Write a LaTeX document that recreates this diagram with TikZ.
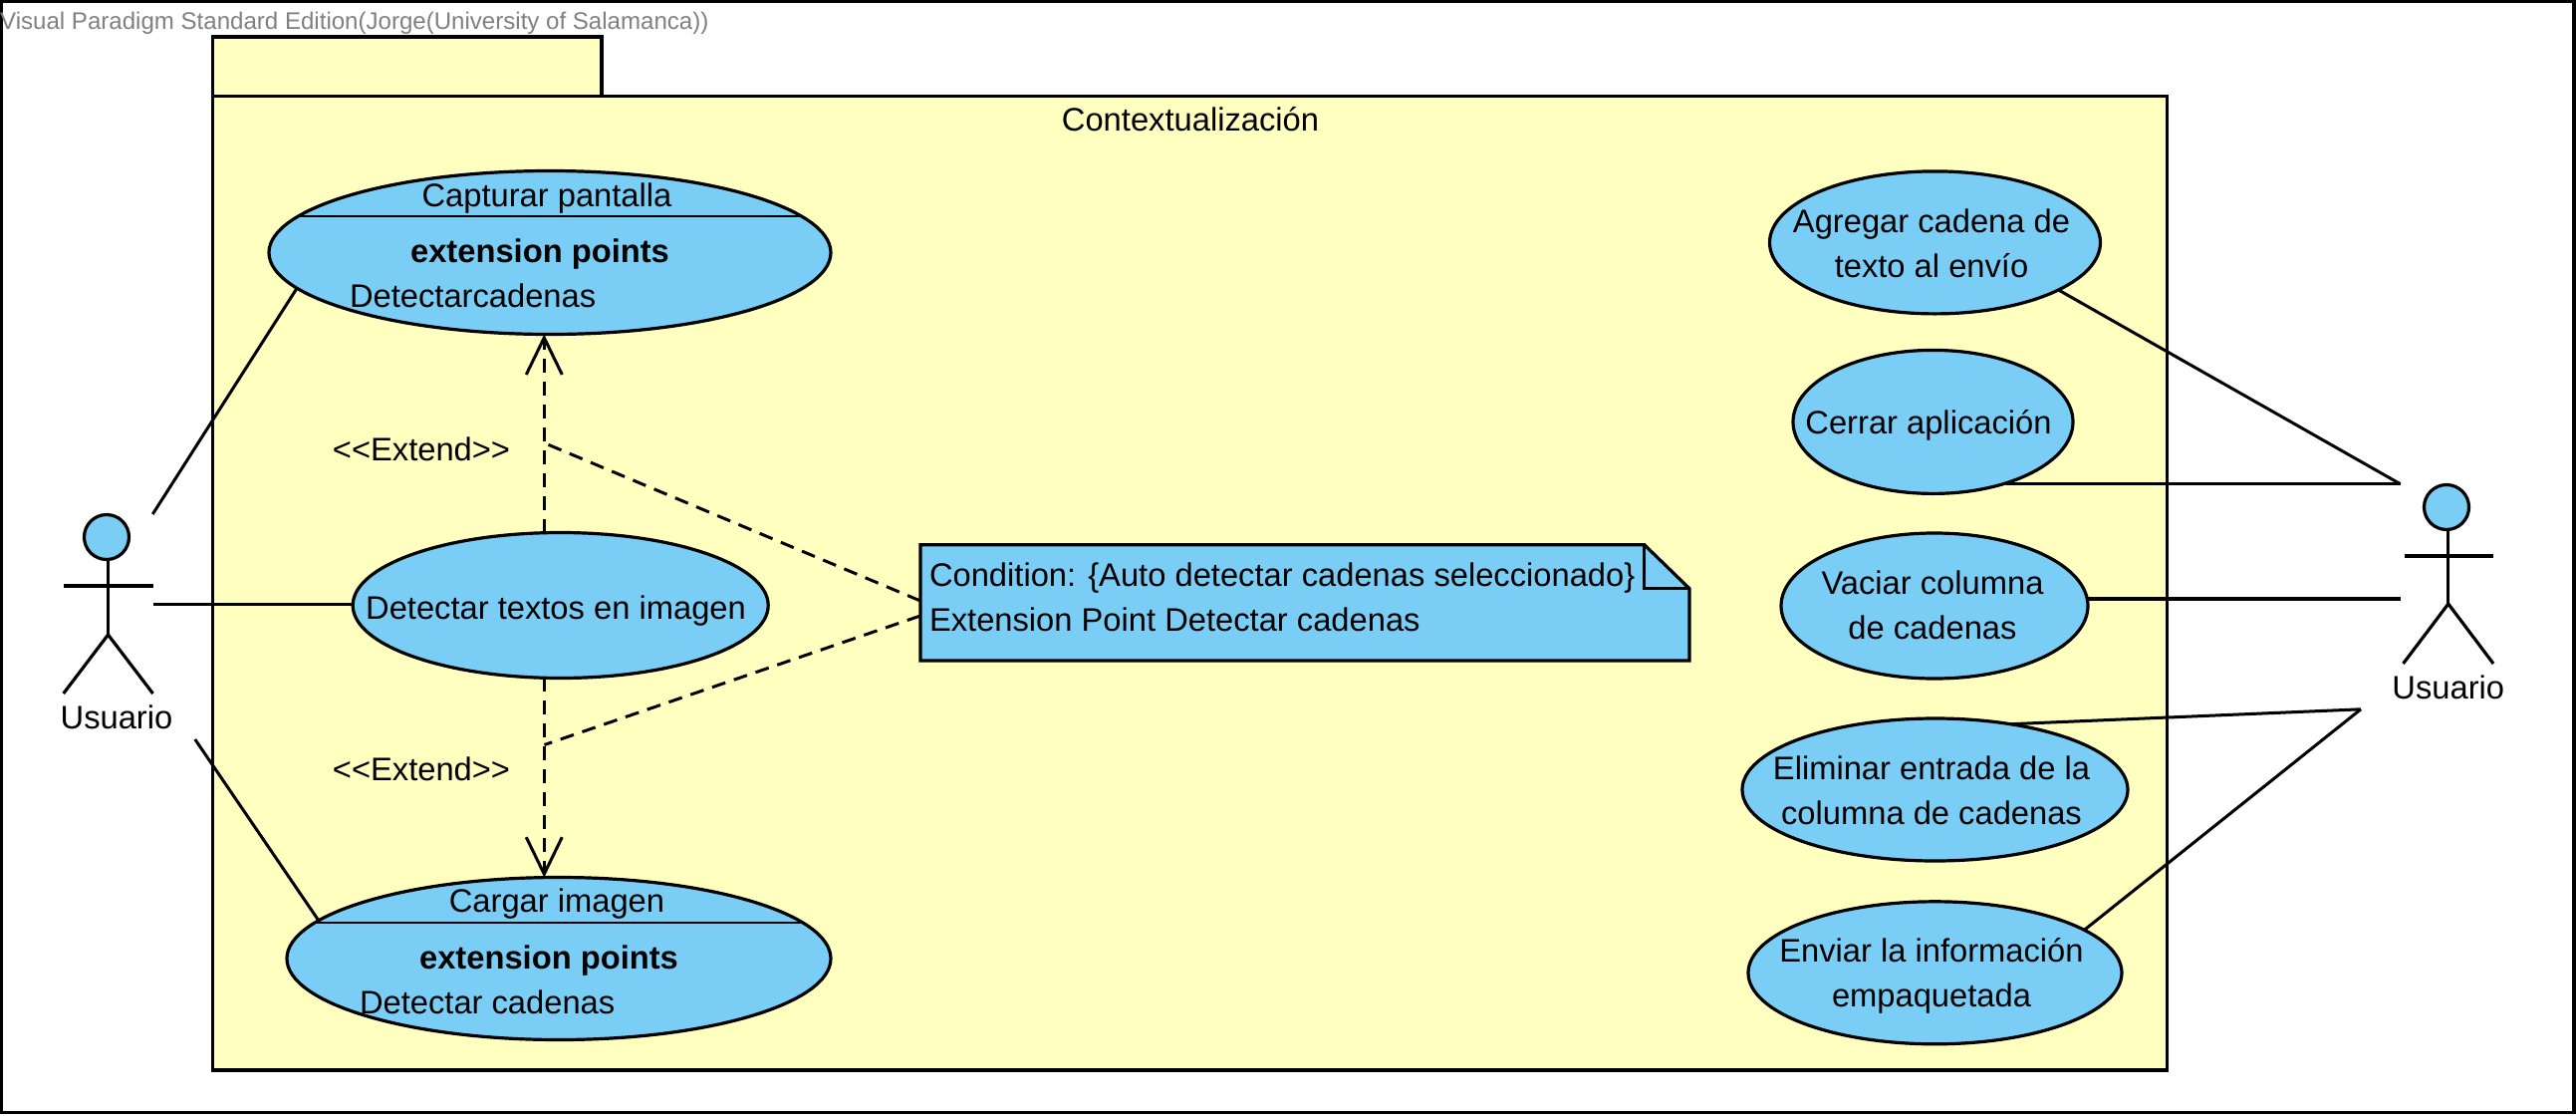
\documentclass[tikz,border=0pt]{standalone}
\usepackage{fontspec}
\setmainfont{Liberation Sans}
\usetikzlibrary{arrows.meta,shapes.geometric}
\definecolor{ucfill}{HTML}{7ACEF5}
\definecolor{pkgfill}{HTML}{FFFFC0}
\definecolor{wmgray}{HTML}{808080}
\tikzset{
  line/.style={draw=black,line width=3.2pt},
  usecase/.style={ellipse,draw=black,line width=3.2pt,fill=ucfill,inner sep=0pt,outer sep=0pt},
  lbl/.style={font=\fontsize{32.7}{45}\selectfont,text=black,inner sep=0pt,outer sep=0pt,anchor=base,align=center},
  lblw/.style={font=\fontsize{32.7}{45}\selectfont,text=black,inner sep=0pt,outer sep=0pt,anchor=base west},
  assoc/.style={draw=black,line width=3pt},
  ext/.style={draw=black,line width=3pt,dash pattern=on 14pt off 9pt},
  extarrow/.style={ext,-{Straight Barb[length=37pt,width=36pt,line width=3pt]}},
  anchorline/.style={draw=black,line width=3pt,dash pattern=on 14pt off 9pt},
}
\begin{document}
\begin{tikzpicture}[x=1pt,y=-1pt]
\useasboundingbox (0,0) rectangle (2586,1119);
\draw[line] (1,1) rectangle (2584,1116.5);
\node[font=\fontsize{24.07}{28}\selectfont,text=wmgray,inner sep=0pt,anchor=base west] (wm) at (0,29) {Visual Paradigm Standard Edition(Jorge(University of Salamanca))};
% package
\draw[line,fill=pkgfill] (213.5,37) rectangle (604,96.5);
\draw[line,fill=pkgfill] (213.5,96.5) rectangle (2175.5,1074);
\node[lbl] (pkgname) at (1195,131) {Contextualización};
% use cases
\node[usecase,minimum width=564pt,minimum height=164pt] (capt) at (552,253.5) {};
\draw[draw=black,line width=2pt] (300,217) -- (804,217);
\node[lbl] (captname) at (549,207) {Capturar pantalla};
\node[lbl,font=\fontsize{32.7}{45}\selectfont\bfseries] (captext) at (542,263.5) {extension points};
\node[lblw] (captpoint) at (351,308) {Detectarcadenas};
\node[usecase,minimum width=417pt,minimum height=146pt] (det) at (562.7,607.5) {};
\node[lbl] (detname) at (558,621) {Detectar textos en imagen};
\node[usecase,minimum width=546pt,minimum height=163pt] (carg) at (561,962) {};
\draw[draw=black,line width=2pt] (317.5,925.5) -- (806.5,925.5);
\node[lbl] (cargname) at (559,915) {Cargar imagen};
\node[lbl,font=\fontsize{32.7}{45}\selectfont\bfseries] (cargext) at (551,972.5) {extension points};
\node[lblw] (cargpoint) at (361,1017) {Detectar cadenas};
\node[usecase,minimum width=332pt,minimum height=143pt] (agr) at (1942.5,243.4) {};
\node[lbl] (agrname) at (1939,278) {Agregar cadena de\\texto al envío};
\node[usecase,minimum width=281pt,minimum height=144pt] (cer) at (1940.5,423.4) {};
\node[lbl] (cername) at (1936,435) {Cerrar aplicación};
\node[usecase,minimum width=308pt,minimum height=146pt] (vac) at (1942,608) {};
\node[lbl] (vacname) at (1940,641) {Vaciar columna\\de cadenas};
\node[usecase,minimum width=387pt,minimum height=143pt] (eli) at (1942.5,792.5) {};
\node[lbl] (eliname) at (1939,827.5) {Eliminar entrada de la\\columna de cadenas};
\node[usecase,minimum width=375pt,minimum height=143pt] (env) at (1942.5,976.3) {};
\node[lbl] (envname) at (1939,1010) {Enviar la información\\empaquetada};
% left actor
\node[usecase,minimum width=45pt,minimum height=45pt] (lhead) at (107,539) {};
\coordinate (lhip) at (108.5,637);
\draw[line] (lhip |- lhead.south) -- (lhip);
\draw[line] (63.7,588) -- (153.5,588);
\draw[line] (63.7,696) -- (lhip) -- (153.5,696);
\node[lbl] (lname) at (117,731) {Usuario};
% right actor
\node[usecase,minimum width=45pt,minimum height=45pt] (rhead) at (2456,509) {};
\coordinate (rhip) at (2457.8,606);
\draw[line] (rhip |- rhead.south) -- (rhip);
\draw[line] (2413.6,558) -- (2503,558);
\draw[line] (2412.5,666) -- (rhip) -- (2503,666);
\node[lbl] (rname) at (2457.8,701) {Usuario};
% associations
\coordinate (la) at (153.3,516);
\coordinate (lb) at (153.5,606.4);
\coordinate (lc) at (195.8,742);
\coordinate (ra) at (2409.6,485.7);
\coordinate (rb) at (2409.6,600.7);
\coordinate (rc) at (2370,711.8);
\draw[assoc] (la) -- (capt.188.9);
\draw[assoc,line width=3.6pt] (lb) -- (lb -| det.180);
\draw[assoc] (lc) -- (carg.171);
\draw[assoc] (agr.-21.1) -- (ra);
\draw[assoc] (ra -| cer.-40.7) -- (ra);
\draw[assoc,line width=3.6pt] (rb -| vac.0) -- (rb);
\draw[assoc] (eli.41.1) -- (rc);
\draw[assoc] (env.16.8) -- (rc);
% extend
\draw[extarrow] (capt.266.4 |- det.102.6) -- (capt.266.4);
\draw[extarrow] (capt.266.4 |- det.257.4) -- (capt.266.4 |- carg.100.3);
\node[lbl] (e1) at (423,462) {<{}<Extend>{}>};
\node[lbl] (e2) at (423,783) {<{}<Extend>{}>};
% note
\node[inner sep=0pt,outer sep=0pt,minimum width=772pt,minimum height=116.3pt] (note) at (1310,604.85) {};
\draw[line,fill=ucfill,line join=miter] (note.south west) -- (note.north west) -- (1650.7,546.7) -- (1696,590.7) -- (note.south east) -- cycle;
\draw[line,line join=miter] (1650.7,546.7) -- (1650.7,590.7) -- (1696,590.7);
\node[lblw] (cond) at (933,588) {Condition: \{Auto detectar cadenas seleccionado\}};
\node[lblw] (extp) at (933,633) {Extension Point Detectar cadenas};
\coordinate (ja) at (546.5,444.6);
\coordinate (jb) at (546.5,747.5);
\draw[anchorline] ([yshift=1.85pt]note.west) -- (ja);
\draw[anchorline] ([yshift=-13.15pt]note.west) -- (jb);
\end{tikzpicture}
\end{document}
